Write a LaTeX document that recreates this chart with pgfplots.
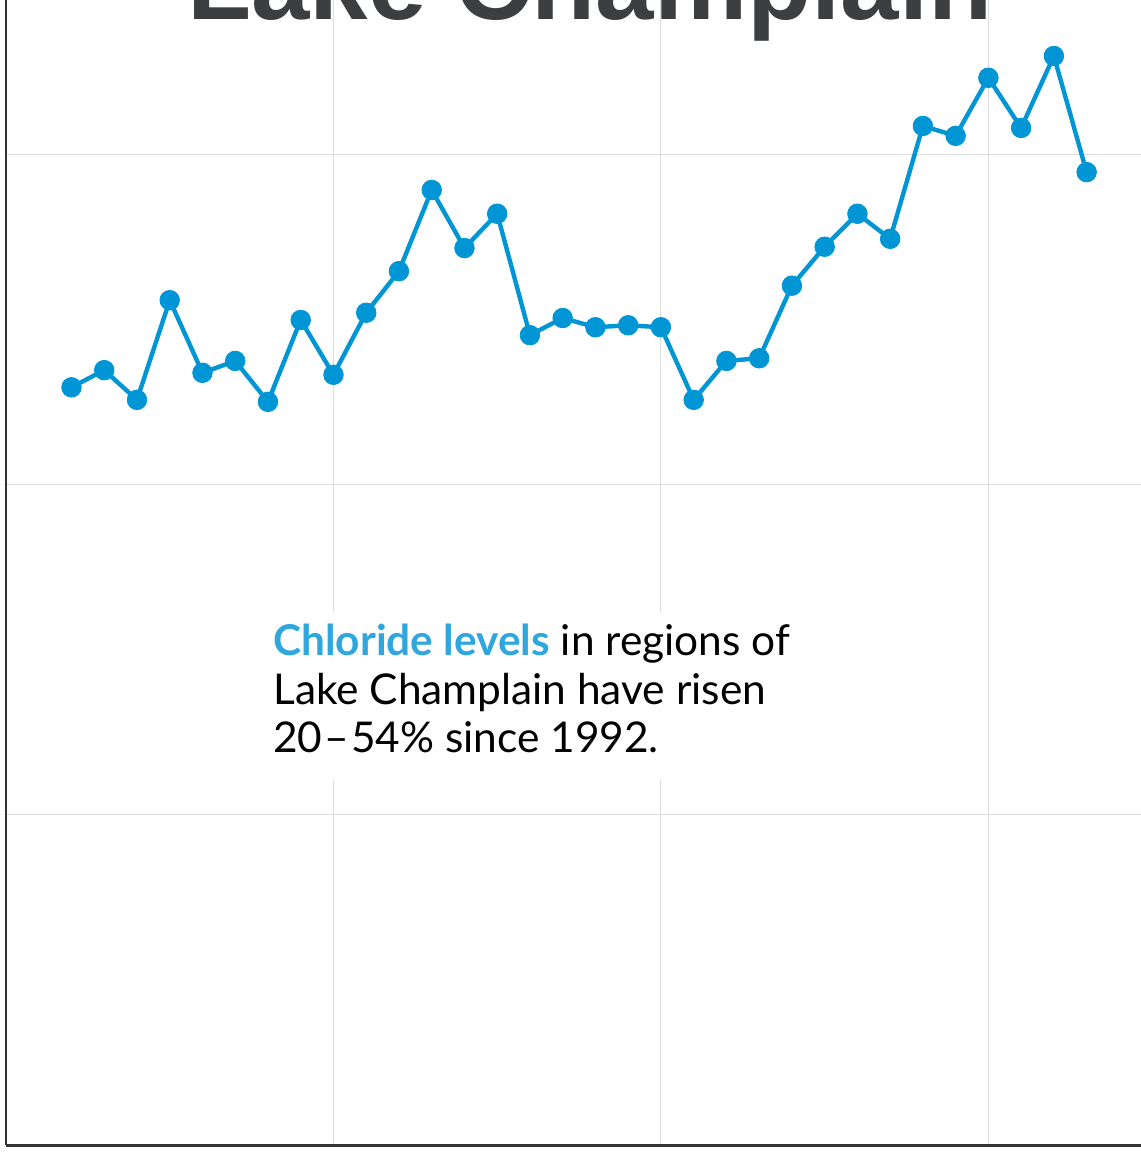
\documentclass[border=0pt]{standalone}
\usepackage{pgfplots}
\pgfplotsset{compat=1.18}
\usepackage{fontspec}
\setmainfont{Lato}
\newfontfamily\titlefont{Liberation Sans}
\definecolor{linec}{HTML}{0096D6}
\definecolor{hl}{HTML}{2FA6DE}
\definecolor{titlec}{HTML}{3D3E40}
\definecolor{gridc}{HTML}{DDDDDD}
\definecolor{spine}{HTML}{333333}
\pgfplotstableread{
year val
1992 11.48
1993 11.74
1994 11.29
1995 12.80
1996 11.70
1997 11.88
1998 11.26
1999 12.50
2000 11.67
2001 12.61
2002 13.24
2003 14.47
2004 13.59
2005 14.11
2006 12.27
2007 12.53
2008 12.39
2009 12.42
2010 12.39
2011 11.29
2012 11.88
2013 11.92
2014 13.02
2015 13.61
2016 14.11
2017 13.73
2018 15.44
2019 15.29
2020 16.17
2021 15.41
2022 16.50
2023 14.74
}\chloride
\begin{document}
\begin{tikzpicture}
\begin{axis}[
  at={(3pt,4pt)}, anchor=south west,
  scale only axis,
  width=567.5pt, height=660pt,
  xmin=1990, xmax=2024.66,
  ymin=0, ymax=20,
  axis x line*=bottom, axis y line*=left,
  x axis line style={line width=1.5pt, color=spine, -},
  y axis line style={line width=1pt, color=spine, -},
  xtick={2000,2010,2020}, ytick={5,10,15},
  xticklabels={}, yticklabels={},
  major tick length=0pt,
  grid=major,
  major grid style={line width=0.5pt, color=gridc},
  clip=false,
]
\addplot[color=linec, line width=2.2pt, mark=*, mark size=4.9pt,
  mark options={fill=linec, draw=linec, line width=0.4pt}] table[x=year, y=val] {\chloride};
\end{axis}
\fill[white, opacity=0.9] (131.5pt,186.5pt) rectangle (405pt,270.5pt);
\node[anchor=base, inner sep=0pt, text=titlec, font=\titlefont\bfseries\fontsize{52.5pt}{60pt}\selectfont] at (295pt,566.5pt) {Lake Champlain};
\begin{scope}[every node/.style={anchor=base west, inner sep=0pt, font=\fontsize{21.2pt}{24pt}\selectfont}]
\node at (136.5pt,248.5pt) {\textcolor{hl}{\bfseries Chloride levels} in regions of};
\node at (136.5pt,224pt) {Lake Champlain have risen};
\node at (136.5pt,200pt) {20\kern1pt–\kern1pt54\% since 1992.};
\end{scope}
\pgfresetboundingbox
\useasboundingbox (0pt,0pt) rectangle (570.5pt,576.5pt);
\end{tikzpicture}
\end{document}
